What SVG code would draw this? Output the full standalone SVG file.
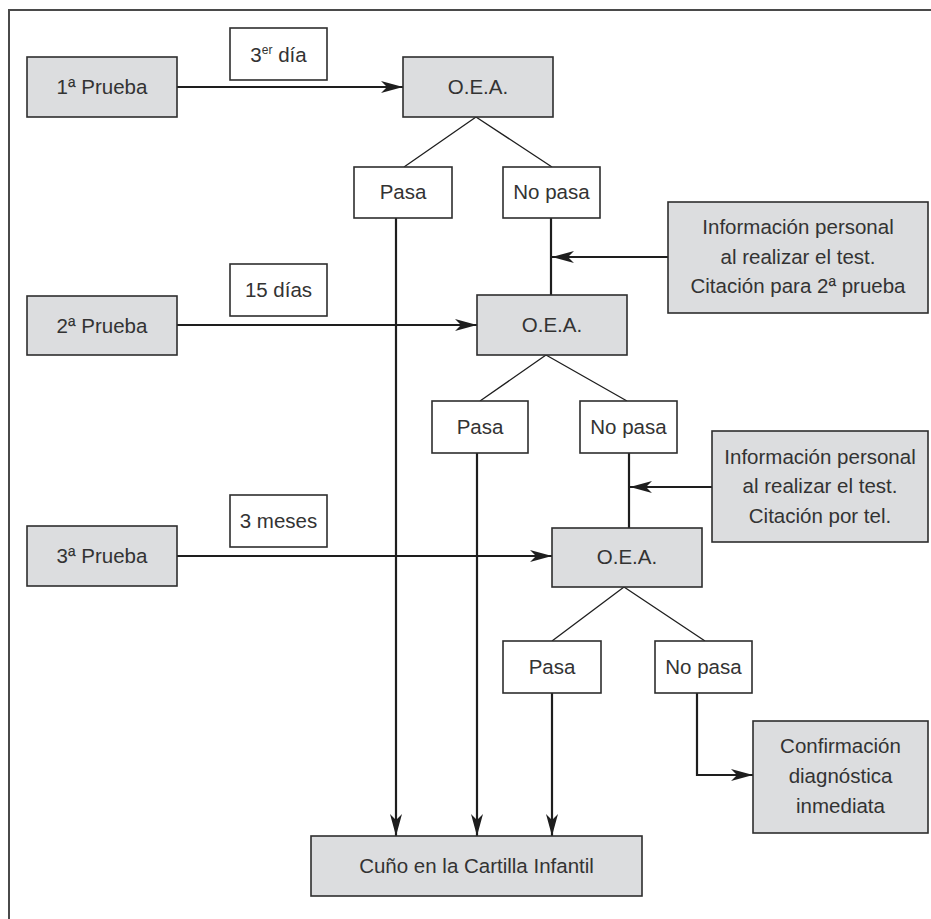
<svg xmlns="http://www.w3.org/2000/svg" width="931" height="919" viewBox="0 0 931 919">
<defs>
<marker id="ah" viewBox="-22 -6 22 12" refX="0" refY="0" markerWidth="22" markerHeight="12" markerUnits="userSpaceOnUse" orient="auto">
<path d="M0,0 L-22,-6 L-16,0 L-22,6 Z" fill="#1e1e1e"/>
</marker>
</defs>
<style>
.g{fill:#dcdddf;stroke:#2e2e2e;stroke-width:1.6}
.w{fill:#ffffff;stroke:#2e2e2e;stroke-width:1.6}
text{font-family:"Liberation Sans",Arial,sans-serif;font-size:20.5px;fill:#333333;text-anchor:middle}
.c{fill:none;stroke:#1e1e1e;stroke-width:2.2}
.d{fill:none;stroke:#1e1e1e;stroke-width:1.3}
.a{marker-end:url(#ah)}
.f{fill:none;stroke:#4a4a4a;stroke-width:2}
</style>
<rect width="931" height="919" fill="#ffffff"/>
<path class="f" d="M9,919 V10 H931"/>
<g id="connectors">
<path class="c a" d="M177,87 H403"/>
<path class="d" d="M476,117 L404,167 M476,117 L552,167"/>
<path class="c a" d="M396,218 V836"/>
<path class="c" d="M551,218 V295"/>
<path class="c a" d="M668,257 H552"/>
<path class="c a" d="M177,325 H477"/>
<path class="d" d="M546,355 L480,401 M546,355 L627,401"/>
<path class="c a" d="M477,453 V836"/>
<path class="c" d="M629,453 V528"/>
<path class="c a" d="M712,487 H630"/>
<path class="c a" d="M177,556 H552"/>
<path class="d" d="M624,587 L552,641 M624,587 L705,641"/>
<path class="c a" d="M552,693 V836"/>
<path class="c a" d="M697,693 V775 H753"/>
</g>
<g id="p1"><rect class="g" x="27" y="57" width="150" height="60"/><text x="102" y="94">1ª Prueba</text></g>
<g id="d1"><rect class="w" x="230" y="28" width="97" height="52"/><text x="278.5" y="62">3<tspan font-size="12" dy="-8">er</tspan><tspan dy="8"> día</tspan></text></g>
<g id="oea1"><rect class="g" x="403" y="57" width="150" height="60"/><text x="478" y="94">O.E.A.</text></g>
<g id="pasa1"><rect class="w" x="354" y="167" width="98" height="51"/><text x="403" y="199">Pasa</text></g>
<g id="nopasa1"><rect class="w" x="503" y="167" width="97" height="51"/><text x="551.5" y="199">No pasa</text></g>
<g id="info1"><rect class="g" x="668" y="202" width="260" height="111"/><text x="798" y="234">Información personal</text><text x="798" y="263.5">al realizar el test.</text><text x="798" y="293">Citación para 2ª prueba</text></g>
<g id="p2"><rect class="g" x="27" y="296" width="150" height="59"/><text x="102" y="332.5">2ª Prueba</text></g>
<g id="d2"><rect class="w" x="230" y="264" width="97" height="52"/><text x="278.5" y="297">15 días</text></g>
<g id="oea2"><rect class="g" x="477" y="295" width="150" height="60"/><text x="552" y="332">O.E.A.</text></g>
<g id="pasa2"><rect class="w" x="432" y="401" width="96" height="52"/><text x="480" y="434">Pasa</text></g>
<g id="nopasa2"><rect class="w" x="580" y="401" width="97" height="52"/><text x="628.5" y="434">No pasa</text></g>
<g id="info2"><rect class="g" x="712" y="431" width="216" height="111"/><text x="820" y="464">Información personal</text><text x="820" y="493.3">al realizar el test.</text><text x="820" y="522.7">Citación por tel.</text></g>
<g id="p3"><rect class="g" x="27" y="526" width="150" height="60"/><text x="102" y="563">3ª Prueba</text></g>
<g id="d3"><rect class="w" x="230" y="495" width="97" height="52"/><text x="278.5" y="528">3 meses</text></g>
<g id="oea3"><rect class="g" x="552" y="528" width="150" height="59"/><text x="627" y="564">O.E.A.</text></g>
<g id="pasa3"><rect class="w" x="503" y="641" width="98" height="52"/><text x="552" y="674">Pasa</text></g>
<g id="nopasa3"><rect class="w" x="655" y="641" width="97" height="52"/><text x="703.5" y="674">No pasa</text></g>
<g id="confirm"><rect class="g" x="753" y="721" width="175" height="112"/><text x="840.5" y="753.3">Confirmación</text><text x="840.5" y="783">diagnóstica</text><text x="840.5" y="812.7">inmediata</text></g>
<g id="cuno"><rect class="g" x="311" y="836" width="331" height="60"/><text x="476.5" y="873">Cuño en la Cartilla Infantil</text></g>
</svg>
